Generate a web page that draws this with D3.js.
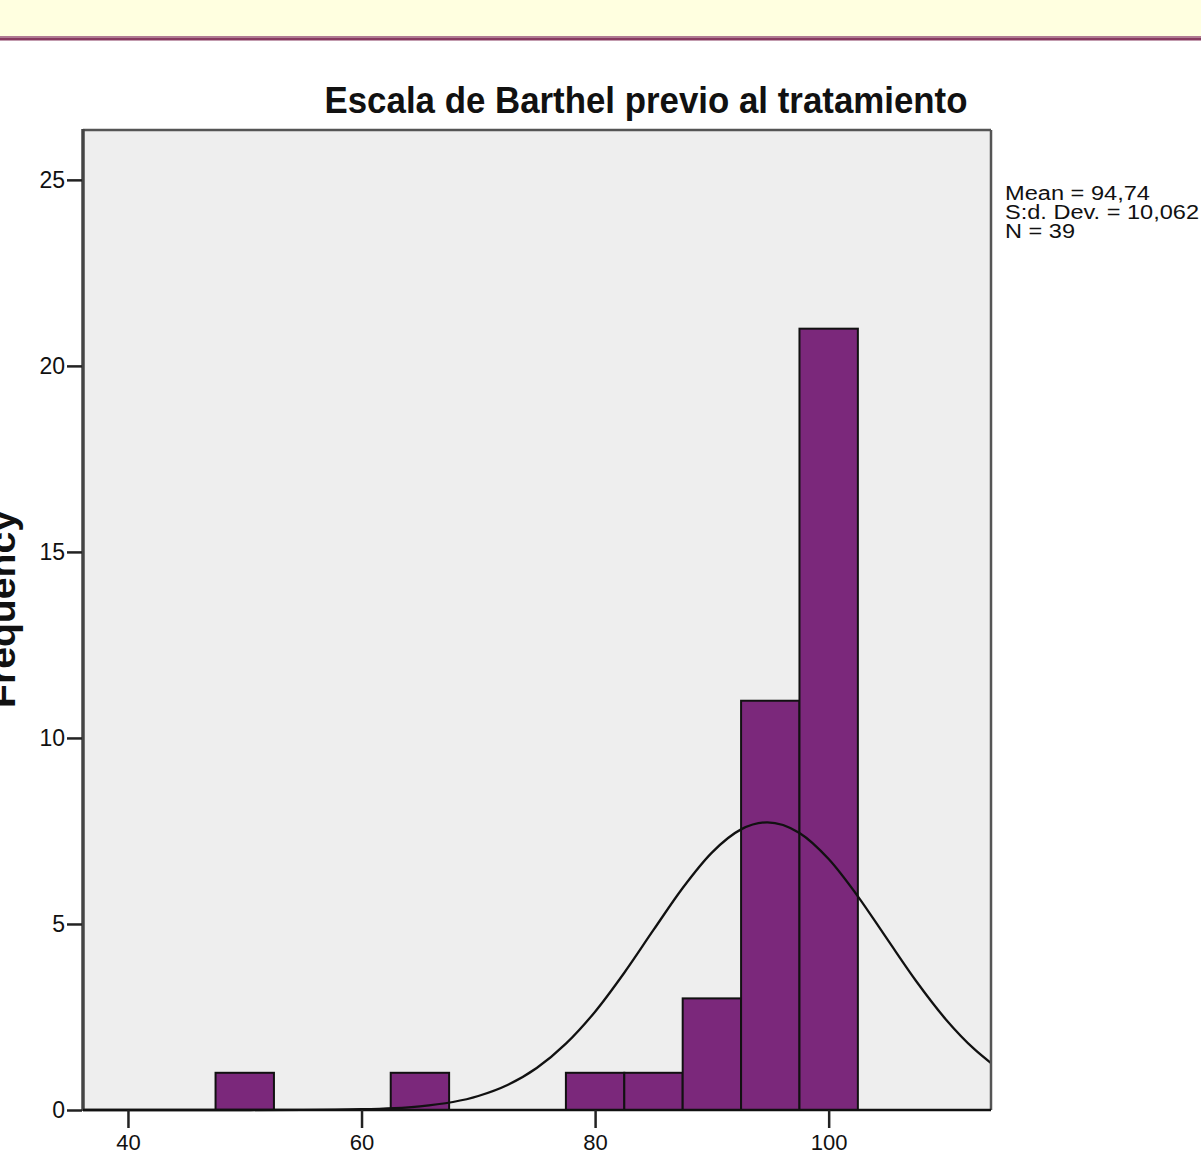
<!DOCTYPE html>
<html><head><meta charset="utf-8">
<script src="https://cdn.jsdelivr.net/npm/d3@7"></script>
<style>body{margin:0;background:#fff;overflow:hidden}svg{display:block}</style>
</head><body>
<script>
// Data
const binCenters = [50, 65, 80, 85, 90, 95, 100];
const binCounts  = [1, 1, 1, 1, 3, 11, 21];
const binWidth = 5;
const yTicks = [0, 5, 10, 15, 20, 25];
const xTicks = [40, 60, 80, 100];
// normal curve points (x value, frequency)
const curveX = [36.15, 40, 45, 50, 55, 60, 65, 70, 72.5, 75, 77.5, 80, 82.5, 85, 87.5, 90, 92.5, 94.74, 97.5, 100, 102.5, 105, 107.5, 110, 112.5, 113.9];
const curveY = [0, 0, 0.00004, 0.0004, 0.003, 0.02, 0.098, 0.376, 0.672, 1.128, 1.782, 2.643, 3.69, 4.839, 5.968, 6.919, 7.543, 7.732, 7.447, 6.745, 5.743, 4.597, 3.46, 2.448, 1.628, 1.262];
const statLines = ["Mean = 94,74", "S:d. Dev. = 10,062", "N = 39"];
const title = "Escala de Barthel previo al tratamiento";
const yLabel = "Frequency";

const W = 1201, H = 1155;
const L = 83, R = 991, T = 130, B = 1110;
const svg = d3.select("body").append("svg").attr("width", W).attr("height", H);

// top band
svg.append("rect").attr("x",0).attr("y",0).attr("width",W).attr("height",37).attr("fill","#ffffe0");
svg.append("rect").attr("x",0).attr("y",36).attr("width",W).attr("height",1.5).attr("fill","#b07a92");
svg.append("rect").attr("x",0).attr("y",37.5).attr("width",W).attr("height",3).attr("fill","#873a60");

const x = d3.scaleLinear().domain([36.15, 113.9]).range([L, R]);
const y = d3.scaleLinear().domain([0, 26.34]).range([B, T]);

// plot background
svg.append("rect").attr("x",L).attr("y",T).attr("width",R-L).attr("height",B-T).attr("fill","#eeeeee");

// bars
svg.append("g").selectAll("rect").data(binCenters).join("rect")
  .attr("x", d => x(d - binWidth/2))
  .attr("width", d => x(d + binWidth/2) - x(d - binWidth/2))
  .attr("y", (d,i) => y(binCounts[i]))
  .attr("height", (d,i) => y(0) - y(binCounts[i]))
  .attr("fill", "#7b287b").attr("stroke", "#111").attr("stroke-width", 2);

// normal curve
const pts = curveX.map((v,i) => [v, curveY[i]]);
svg.append("path").datum(pts)
  .attr("d", d3.line().x(d => x(d[0])).y(d => y(d[1])).curve(d3.curveMonotoneX))
  .attr("fill","none").attr("stroke","#111").attr("stroke-width",2.3);

// frame
svg.append("line").attr("x1",L).attr("x2",R).attr("y1",T).attr("y2",T).attr("stroke","#555").attr("stroke-width",2.5);
svg.append("line").attr("x1",R).attr("x2",R).attr("y1",T).attr("y2",B).attr("stroke","#555").attr("stroke-width",2.5);
svg.append("line").attr("x1",L).attr("x2",L).attr("y1",T-1).attr("y2",B+1).attr("stroke","#444").attr("stroke-width",3.5);
svg.append("line").attr("x1",L).attr("x2",R).attr("y1",B).attr("y2",B).attr("stroke","#111").attr("stroke-width",2.5);

// axes
const yAxis = svg.append("g").attr("transform",`translate(${L-1},0)`)
  .call(d3.axisLeft(y).tickValues(yTicks).tickSize(15).tickPadding(2).tickFormat(d3.format("d")));
yAxis.select(".domain").remove();
yAxis.selectAll("line").attr("stroke","#222").attr("stroke-width",2.5);
yAxis.selectAll("text").attr("font-family","Liberation Sans, Arial, sans-serif").attr("font-size",23).attr("fill","#111");

const xAxis = svg.append("g").attr("transform",`translate(0,${B})`)
  .call(d3.axisBottom(x).tickValues(xTicks).tickSize(18).tickPadding(6).tickFormat(d3.format("d")));
xAxis.select(".domain").remove();
xAxis.selectAll("line").attr("stroke","#222").attr("stroke-width",2.5);
xAxis.selectAll("text").attr("font-family","Liberation Sans, Arial, sans-serif").attr("font-size",22).attr("fill","#111");

// title
svg.append("text").attr("x",646).attr("y",113).attr("text-anchor","middle")
  .attr("font-family","Liberation Sans, Arial, sans-serif").attr("font-weight","bold").attr("font-size",37)
  .attr("textLength",643).attr("lengthAdjust","spacingAndGlyphs").attr("fill","#111").text(title);

// y label
svg.append("text").attr("transform","translate(15,609) rotate(-90)").attr("text-anchor","middle")
  .attr("font-family","Liberation Sans, Arial, sans-serif").attr("font-weight","bold").attr("font-size",36)
  .attr("textLength",198).attr("lengthAdjust","spacingAndGlyphs").attr("fill","#111").text(yLabel);

// stats
const statWidths = [145, 194, 70];
svg.append("g").selectAll("text").data(statLines).join("text")
  .attr("x",1005).attr("y",(d,i) => 200 + i*19)
  .attr("font-family","Liberation Sans, Arial, sans-serif").attr("font-size",20).attr("fill","#111")
  .attr("textLength",(d,i) => statWidths[i]).attr("lengthAdjust","spacingAndGlyphs")
  .text(d => d);
</script>
</body></html>
